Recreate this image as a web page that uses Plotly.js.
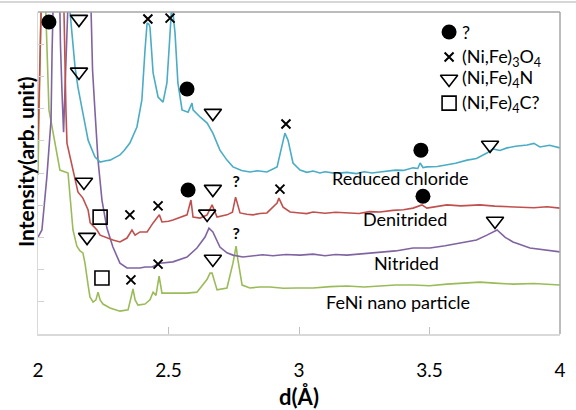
<!DOCTYPE html>
<html>
<head>
<meta charset="utf-8">
<script src="https://cdn.plot.ly/plotly-3.0.1.min.js"></script>
<style>html,body{margin:0;padding:0;background:#fff;}#chart{width:576px;height:410px;}</style>
</head>
<body>
<div id="chart"></div>
<script>
// d-spacing (Å) and intensity (arb. unit) for each sample
const blueD = [2.000,2.080,2.107,2.123,2.142,2.153,2.172,2.192,2.218,2.238,2.26,2.276,2.30,2.314,2.33,2.352,2.379,2.398,2.410,2.418,2.425,2.429,2.441,2.460,2.479,2.494,2.506,2.513,2.525,2.536,2.552,2.575,2.590,2.594,2.621,2.648,2.670,2.697,2.724,2.747,2.78,2.812,2.84,2.877,2.916,2.935,2.946,2.958,2.977,3.004,3.03,3.054,3.08,3.10,3.14,3.184,3.22,3.25,3.28,3.310,3.34,3.37,3.40,3.437,3.455,3.464,3.475,3.490,3.53,3.567,3.60,3.644,3.68,3.720,3.743,3.77,3.797,3.83,3.874,3.90,3.923,3.96,4.000];
const blueI = [14,20,14,9.97,8.29,7.67,6.86,6.02,5.50,5.34,5.38,5.40,5.50,5.56,5.70,5.93,6.43,7.27,8.82,9.66,9.62,9.53,8.11,7.36,7.20,7.80,9.35,10.3,9.35,7.80,6.96,6.89,7.17,6.96,6.74,6.55,6.24,5.71,5.40,5.19,5.08,5.03,5.07,5.03,5.19,5.81,6.24,6.02,5.31,5.09,5.02,5.06,5.00,5.04,4.99,5.02,4.98,5.04,5.00,5.03,5.06,5.09,5.08,5.16,5.14,5.31,5.17,5.19,5.20,5.25,5.30,5.40,5.45,5.62,5.75,5.70,5.78,5.83,5.87,5.92,5.81,5.86,5.78];

const redD = [2.000,2.008,2.030,2.054,2.080,2.100,2.107,2.111,2.123,2.134,2.153,2.172,2.192,2.200,2.226,2.238,2.264,2.287,2.314,2.341,2.360,2.372,2.391,2.418,2.441,2.465,2.475,2.50,2.517,2.552,2.571,2.586,2.594,2.621,2.648,2.667,2.686,2.724,2.745,2.757,2.774,2.80,2.824,2.85,2.877,2.916,2.923,2.939,2.966,3.004,3.03,3.054,3.10,3.14,3.184,3.23,3.27,3.310,3.36,3.40,3.437,3.471,3.490,3.53,3.567,3.62,3.693,3.75,3.820,3.90,3.95,4.000];
const redI = [6.0,9.5,18,24,18,9.4,6.96,5.93,5.50,5.00,4.41,4.22,3.85,3.45,3.23,3.07,2.98,2.92,2.86,2.98,3.23,3.07,3.17,3.17,3.45,3.70,3.48,3.50,3.54,3.63,3.70,4.16,3.63,3.60,3.70,4.01,3.63,3.70,3.78,4.25,3.76,3.72,3.70,3.74,3.76,4.07,4.22,3.94,3.79,3.76,3.74,3.79,3.75,3.78,3.76,3.74,3.80,3.79,3.84,3.86,3.91,4.01,3.91,3.96,4.01,3.98,4.01,3.97,3.94,3.92,3.95,3.91];

const purpleD = [2.000,2.015,2.034,2.050,2.054,2.060,2.069,2.080,2.086,2.092,2.098,2.103,2.109,2.130,2.157,2.185,2.203,2.209,2.218,2.230,2.245,2.264,2.287,2.314,2.341,2.391,2.410,2.437,2.467,2.517,2.571,2.609,2.640,2.655,2.670,2.697,2.724,2.747,2.785,2.824,2.86,2.90,2.95,3.004,3.054,3.10,3.14,3.184,3.25,3.310,3.37,3.437,3.502,3.56,3.628,3.68,3.720,3.759,3.790,3.820,3.885,3.94,4.000];
const purpleI = [3.01,3.23,4.88,6.65,8.8,12,14,12,9.0,7.5,6.27,7.5,10.2,16,20,16,10.2,8.2,6.96,5.40,4.16,3.29,2.70,2.20,2.05,2.05,2.08,2.08,2.20,2.24,2.39,2.67,3.01,3.29,3.17,2.70,2.52,2.45,2.39,2.42,2.46,2.43,2.47,2.45,2.48,2.43,2.47,2.45,2.50,2.55,2.58,2.67,2.67,2.74,2.83,2.92,3.07,3.23,3.00,2.86,2.67,2.62,2.55];

const greenD = [2.000,2.011,2.023,2.030,2.042,2.065,2.084,2.115,2.134,2.149,2.161,2.172,2.180,2.192,2.199,2.211,2.222,2.230,2.238,2.249,2.276,2.314,2.345,2.356,2.364,2.372,2.383,2.410,2.429,2.441,2.452,2.464,2.475,2.517,2.571,2.609,2.648,2.659,2.667,2.686,2.724,2.747,2.759,2.766,2.782,2.812,2.85,2.889,2.94,2.992,3.054,3.12,3.184,3.25,3.310,3.37,3.437,3.50,3.567,3.63,3.693,3.75,3.820,3.90,4.000];
const greenI = [4.94,10.0,18,10.0,6.96,6.0,5.09,5.0,3.23,2.73,2.58,2.52,2.20,1.52,1.15,0.99,1.06,1.30,1.06,0.93,0.81,0.71,0.75,1.12,1.40,1.06,0.90,0.93,1.06,1.30,1.20,1.80,1.27,1.27,1.27,1.30,1.70,1.89,1.89,1.37,1.43,2.20,2.73,2.30,1.52,1.43,1.46,1.46,1.42,1.43,1.43,1.47,1.49,1.46,1.49,1.52,1.52,1.50,1.55,1.58,1.61,1.58,1.55,1.57,1.52];

// phase markers
const circleD = [2.042,2.571,3.467,2.575,3.475];
const circleI = [9.69,7.61,5.71,4.47,4.28];
const crossD = [2.421,2.506,2.950,2.927,2.352,2.460,2.356,2.460];
const crossI = [9.78,9.81,6.52,4.50,3.70,3.98,1.68,2.17];
const triD = [2.157,2.157,2.670,2.176,2.188,2.670,2.648,2.670,3.732,3.751];
const triI = [9.78,8.14,6.86,4.72,3.01,4.50,3.73,2.33,5.87,3.51];
const squareD = [2.238,2.245];
const squareI = [3.630,1.739];
const questionD = [2.759,2.759];
const questionI = [4.69,3.08];

// legend
const legendD = 3.575;
const legendI = [9.38,8.60,7.92,7.17];
const legendLabels = ['?','(Ni,Fe)<sub>3</sub>O<sub>4</sub>','(Ni,Fe)<sub>4</sub>N','(Ni,Fe)<sub>4</sub>C?'];

// sample labels
const sampleLabels = ['Reduced chloride','Denitrided','Nitrided','FeNi nano particle'];
const sampleLabelD = [3.389,3.406,3.410,3.379];
const sampleLabelI = [4.84,3.56,2.20,0.99];

const xTicks = [2,2.5,3,3.5,4];
const xTickText = ['2','2.5','3','3.5','4'];

const FONT = 'Lato, "Open Sans", sans-serif';
const lw = 1.6;
const traces = [
  {x: greenD, y: greenI, mode:'lines', line:{color:'#9bbb59', width:lw}},
  {x: purpleD, y: purpleI, mode:'lines', line:{color:'#8064a2', width:lw}},
  {x: redD, y: redI, mode:'lines', line:{color:'#c0504d', width:lw}},
  {x: blueD, y: blueI, mode:'lines', line:{color:'#4bacc6', width:lw}},
  {x: circleD.concat([legendD]), y: circleI.concat([legendI[0]]), mode:'markers', marker:{symbol:'circle', size:15, color:'#000'}},
  {x: crossD.concat([legendD]), y: crossI.concat([legendI[1]]), mode:'markers', marker:{symbol:'x-thin-open', size:9, color:'#000', line:{color:'#000', width:2}}},
  {x: triD.concat([legendD]), y: triI.concat([legendI[2]]), mode:'markers', marker:{symbol:'triangle-down-open', size:15, color:'#000', line:{width:1.6}}},
  {x: squareD.concat([legendD]), y: squareI.concat([legendI[3]]), mode:'markers', marker:{symbol:'square-open', size:14, color:'#000', line:{width:1.6}}},
  {x: questionD, y: questionI, mode:'text', text: questionD.map(()=>'?'), textfont:{family:FONT, size:16, color:'#000', weight:'bold'}, textposition:'middle center'}
];

const annotations = [];
legendLabels.forEach((t,i)=>annotations.push({x: legendD, y: legendI[i], xref:'x', yref:'y', text:t, showarrow:false, xanchor:'left', xshift:11, font:{family:FONT, size:18, color:'#000'}}));
sampleLabels.forEach((t,i)=>annotations.push({x: sampleLabelD[i], y: sampleLabelI[i], xref:'x', yref:'y', text:t, showarrow:false, font:{family:FONT, size:18, color:'#000'}}));
annotations.push({xref:'paper', yref:'paper', x:(25-38)/522, y:(334-162)/322, text:'Intensity(arb. unit)', textangle:-90, showarrow:false, xanchor:'center', yanchor:'middle', font:{family:FONT, size:21, color:'#000', weight:'bold'}});

const layout = {
  width:576, height:410,
  margin:{l:38, r:16, t:12, b:76},
  paper_bgcolor:'#fff', plot_bgcolor:'#fff',
  showlegend:false,
  xaxis:{range:[2,4], tickvals:xTicks, ticktext:xTickText, ticks:'inside', ticklen:7, tickcolor:'#bfbfbf',
    showline:true, linecolor:'#d9d9d9', linewidth:1.5, showgrid:false, zeroline:false,
    ticklabelstandoff:19, tickfont:{family:FONT, size:19, color:'#000'},
    title:{text:'d(Å)', font:{family:FONT, size:22, color:'#000', weight:'bold'}, standoff:10}},
  yaxis:{range:[0,10], dtick:1, tick0:0, ticks:'inside', ticklen:6, tickcolor:'#d0d0d0', showticklabels:false,
    showline:true, linecolor:'#d9d9d9', linewidth:1.5, showgrid:false, zeroline:false},
  annotations: annotations,
  shapes:[
    {type:'line', xref:'paper', yref:'paper', x0:0, x1:1, y0:1, y1:1, line:{color:'#a6a6a6', width:1.5}},
    {type:'line', xref:'paper', yref:'paper', x0:1, x1:1, y0:0, y1:1, line:{color:'#a6a6a6', width:1.5}},
    {type:'line', xref:'paper', yref:'paper', x0:-38/522, x1:538/522, y0:332/322, y1:332/322, line:{color:'#c8c8c8', width:1.5}}
  ]
};

Plotly.newPlot('chart', traces, layout, {staticPlot:true, displayModeBar:false});
</script>
</body>
</html>
